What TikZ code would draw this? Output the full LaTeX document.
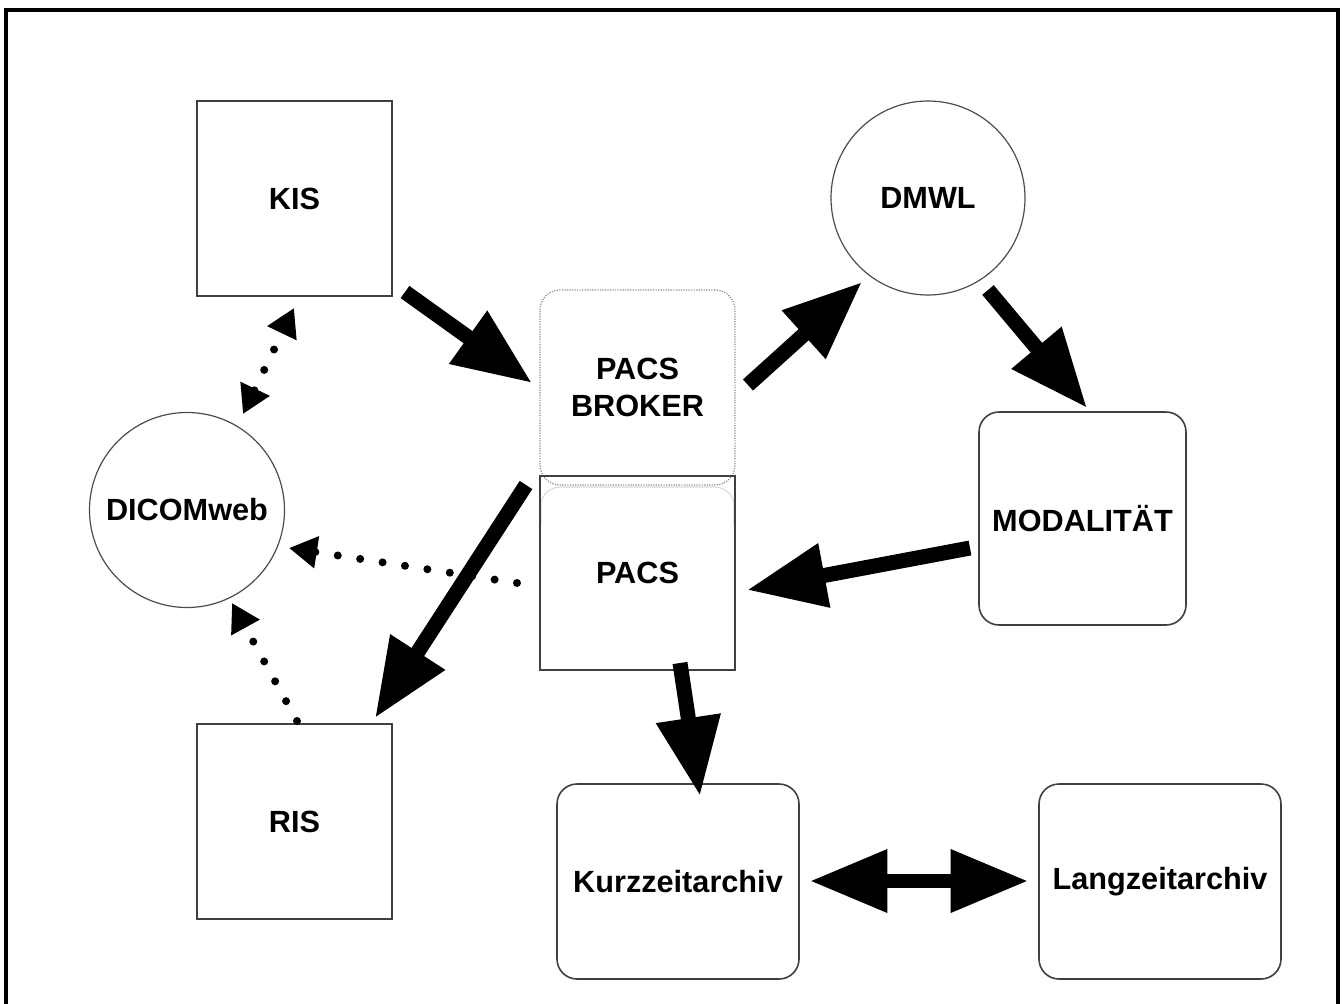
\documentclass[tikz,border=0pt]{standalone}
\usepackage{fontspec}
\setmainfont{Liberation Sans}
\usetikzlibrary{arrows.meta}
\begin{document}
\begin{tikzpicture}[x=0.75pt,y=-0.75pt,
  lbl/.style={font=\fontsize{23}{28}\selectfont\bfseries, align=center, inner sep=0pt},
  sqbox/.style={lbl, draw=black!75, line width=1.2pt, minimum width=146.25pt, minimum height=146.25pt},
  rbox/.style={sqbox, rounded corners=15pt},
  circ/.style={lbl, circle, draw=black!70, line width=0.9pt, minimum size=146.25pt},
  bigarrow/.style={line width=11.25pt, -{Triangle[length=59pt,width=46pt]}},
  bigdouble/.style={line width=10pt, {Triangle[length=58pt,width=45pt]}-{Triangle[length=58pt,width=45pt]}},
  dotarrow/.style={line width=6pt, line cap=round, dash pattern=on 0pt off 17pt, -{Triangle[length=21pt,width=23pt]}},
  dotdouble/.style={line width=6pt, line cap=round, dash pattern=on 0pt off 17pt, {Triangle[length=21pt,width=23pt]}-{Triangle[length=21pt,width=23pt]}}
]
\useasboundingbox (0,0) rectangle (1342,1003);
\fill[white] (0,0) rectangle (1342,1003);
\draw[line width=2.4pt] (6,10) rectangle (1338,1020);

% nodes
\node[sqbox] (kis) at (294.5,198.5) {KIS};
\node[sqbox] (ris) at (294.5,821.5) {RIS};
\node[circ] (dicom) at (187,510) {DICOMweb};
\node[circ, minimum size=145.5pt] (dmwl) at (928,198) {DMWL};
\node[lbl, draw=black!45, densely dotted, line width=0.9pt, rounded corners=15pt,
      minimum width=146.25pt, minimum height=146.25pt] (broker) at (637.5,387.5) {PACS\\BROKER};
\draw[black!15, line width=0.8pt] (541,525) -- (541,505) to[out=90,in=180] (561,487) -- (714,487) to[out=0,in=90] (734,505) -- (734,525);
\node[sqbox, minimum height=145.5pt] (pacs) at (637.5,573) {PACS};
\node[rbox, minimum width=155.25pt, minimum height=159.75pt] (moda) at (1082.5,518.5) {MODALITÄT};
\node[rbox, minimum width=181.5pt] (kurz) at (678,881.5) {Kurzzeitarchiv};
\node[rbox, minimum width=181.5pt] (lang) at (1160,881.5) {Langzeitarchiv};

% arrow end points
\coordinate (a1s) at (405,292); \coordinate (a1e) at (532,383);
\coordinate (a2s) at (748,385); \coordinate (a2e) at (862,282);
\coordinate (a3s) at (988,290); \coordinate (a3e) at (1087,408);
\coordinate (a4s) at (970,548); \coordinate (a4e) at (747,590);
\coordinate (a5s) at (526,485); \coordinate (a5e) at (375,718);
\coordinate (a6s) at (680,663); \coordinate (a6e) at (700,796);
\coordinate (a7s) at (810,881); \coordinate (a7e) at (1028,881);
\coordinate (d1s) at (243,414); \coordinate (d1e) at (294,308);
\coordinate (d2s) at (517,583); \coordinate (d2e) at (289,548);
\coordinate (d3s) at (297,721); \coordinate (d3e) at (232,603);

% solid arrows
\draw[bigarrow] (a1s) -- (a1e);
\draw[bigarrow] (a2s) -- (a2e);
\draw[bigarrow] (a3s) -- (a3e);
\draw[bigarrow] (a4s) -- (a4e);
\draw[bigarrow] (a5s) -- (a5e);
\draw[bigarrow] (a6s) -- (a6e);
\draw[bigdouble] (a7s) -- (a7e);

% dotted arrows
\draw[dotdouble] (d1s) -- (d1e);
\draw[dotarrow] (d2s) -- (d2e);
\draw[dotarrow] (d3s) -- (d3e);
\end{tikzpicture}
\end{document}
